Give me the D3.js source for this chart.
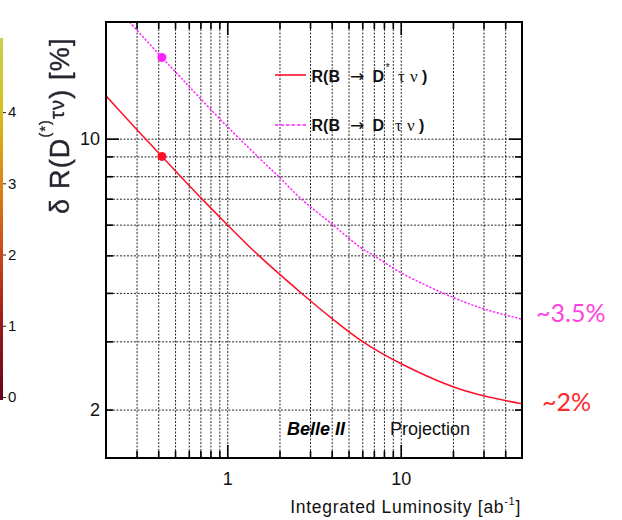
<!DOCTYPE html>
<html><head><meta charset="utf-8">
<script src="https://cdn.jsdelivr.net/npm/d3@7/dist/d3.min.js"></script>
<style>body{margin:0;background:#fff}svg{display:block}</style>
</head><body><svg id="c" width="622" height="520"></svg>
<script>
// ---------------- data ----------------
const lumiRed = [0.2, 0.3, 0.42, 0.54, 0.74, 1.0, 1.5, 2.7, 4.0, 6.0, 10, 20, 30, 50];
const valRed  = [12.9, 10.57, 9.0, 7.98, 6.88, 6.0, 5.02, 3.98, 3.44, 3.0, 2.63, 2.29, 2.17, 2.07];
const lumiMag = [0.273, 0.42, 0.53, 0.61, 1.0, 1.73, 2.0, 2.63, 4.05, 5.86, 7.06, 10.2, 20.4, 30.6, 50];
const valMag  = [20.0, 16.2, 14.5, 13.55, 10.75, 8.45, 7.95, 7.03, 6.0, 5.24, 4.98, 4.49, 3.88, 3.63, 3.42];
const markerLumi = [0.42];
const markerRed  = [9.0];
const markerMag  = [16.2];
const xTickLabels = [1, 10];
const xMinor = [0.3,0.4,0.5,0.6,0.7,0.8,0.9,2,3,4,5,6,7,8,9,20,30,40];
const xGrid  = [0.3,0.4,0.5,0.6,0.7,0.8,0.9,1,2,3,4,5,6,7,8,9,10,20,30,40];
const yTickLabels = [2, 10];
const yMinor = [2,3,4,5,6,7,8,9];
const yMajor = [10];
const yGrid  = [2,3,4,5,6,7,8,9,10];
const colorbarTicks = [0,1,2,3,4];
const annoMag = "~3.5%";
const annoRed = "~2%";

// ---------------- layout ----------------
const svg = d3.select("#c");
const L = 106, R = 522, T = 22, B = 458;
const x = d3.scaleLog().domain([0.2, 50]).range([L, R]);
const y = d3.scaleLog().domain([1.5, 20]).range([B, T]);
const sans = "Liberation Sans, Arial, sans-serif", serif = "Liberation Serif, Times New Roman, serif";

// colorbar (left cut-off panel)
const defs = svg.append("defs");
const grad = defs.append("linearGradient").attr("id","cb").attr("x1",0).attr("y1",0).attr("x2",0).attr("y2",1);
[[0,"#c8d050"],[0.2,"#d6c01e"],[0.4,"#dc8612"],[0.6,"#c8461a"],[0.8,"#961818"],[1,"#640418"]]
  .forEach(([o,c]) => grad.append("stop").attr("offset",o).attr("stop-color",c));
const cb = d3.scaleLinear().domain([0, 5.04]).range([397, 38]);
svg.append("rect").attr("x",0).attr("y",cb(5.04)).attr("width",3).attr("height",cb(0)-cb(5.04)+3).attr("fill","url(#cb)");
const cbAxis = svg.append("g").attr("transform","translate(3,0)")
  .call(d3.axisRight(cb).tickValues(colorbarTicks).tickSize(3).tickPadding(2).tickFormat(d3.format("d")));
cbAxis.select(".domain").remove();
cbAxis.attr("font-size",15).attr("font-family",sans);
cbAxis.selectAll("text").style("font-size","15px").attr("fill","#111");
cbAxis.selectAll("line").attr("stroke","#222");

// y axis title
const blur = defs.append("filter").attr("id","bl");
blur.append("feGaussianBlur").attr("stdDeviation",0.5);
const yt = svg.append("text").attr("transform","translate(69,214) rotate(-90)")
  .attr("font-family",sans).attr("font-size",27).attr("letter-spacing",1.2).attr("fill","#262630")
  .attr("stroke","#262630").attr("stroke-width",0.4).attr("filter","url(#bl)");
yt.append("tspan").text("δ R(D");
yt.append("tspan").attr("font-size",14).attr("dy",-19).text("(*)");
yt.append("tspan").attr("font-size",20).attr("dy",14).text("τν");
yt.append("tspan").attr("dy",5).text(") [%]");

// clip
defs.append("clipPath").attr("id","pc").append("rect").attr("x",L).attr("y",T).attr("width",R-L).attr("height",B-T);

// grid
const gx = svg.append("g").attr("transform",`translate(0,${B})`)
  .call(d3.axisBottom(x).tickValues(xGrid).tickSize(-(B-T)).tickFormat(""));
const gy = svg.append("g").attr("transform",`translate(${L},0)`)
  .call(d3.axisLeft(y).tickValues(yGrid).tickSize(-(R-L)).tickFormat(""));
[gx,gy].forEach(g => { g.select(".domain").remove();
  g.selectAll("line").attr("stroke","#111").attr("stroke-width",0.9).attr("stroke-dasharray","2,1.5"); });

// ticks (inward) on four sides
function ticks(gen, vals, size, tr){
  const g = svg.append("g").attr("transform",tr).call(gen.tickValues(vals).tickSize(-size).tickFormat(""));
  g.select(".domain").remove();
  g.selectAll("line").attr("stroke","#000").attr("stroke-width",1.6);
}
ticks(d3.axisBottom(x), xMinor, 7, `translate(0,${B})`);
ticks(d3.axisBottom(x), xTickLabels, 13, `translate(0,${B})`);
ticks(d3.axisTop(x), xMinor, 7, `translate(0,${T})`);
ticks(d3.axisTop(x), xTickLabels, 13, `translate(0,${T})`);
ticks(d3.axisLeft(y), yMinor, 7, `translate(${L},0)`);
ticks(d3.axisLeft(y), yMajor, 13, `translate(${L},0)`);
ticks(d3.axisRight(y), yMinor, 7, `translate(${R},0)`);
ticks(d3.axisRight(y), yMajor, 13, `translate(${R},0)`);

// tick labels
const xl = svg.append("g").attr("transform",`translate(0,${B})`)
  .call(d3.axisBottom(x).tickValues(xTickLabels).tickSize(0).tickPadding(14).tickFormat(d3.format("d")));
const yl = svg.append("g").attr("transform",`translate(${L},0)`)
  .call(d3.axisLeft(y).tickValues(yTickLabels).tickSize(0).tickPadding(6).tickFormat(d3.format("d")));
[xl,yl].forEach(g => { g.select(".domain").remove();
  g.selectAll("text").attr("font-family",sans).attr("font-size",18).attr("fill","#111"); });

// x axis title
const xt = svg.append("text").attr("x",521).attr("y",513).attr("text-anchor","end")
  .attr("font-family",sans).attr("font-size",17.5).attr("letter-spacing",0.7).attr("fill","#111");
xt.append("tspan").text("Integrated Luminosity [ab");
xt.append("tspan").attr("font-size",11).attr("dy",-8).text("-1");
xt.append("tspan").attr("dy",8).text("]");

// curves
const line = d3.line().x(d => x(d[0])).y(d => y(d[1])).curve(d3.curveCatmullRom.alpha(0.5));
const plot = svg.append("g").attr("clip-path","url(#pc)");
plot.append("path").datum(d3.zip(lumiMag, valMag)).attr("d",line)
  .attr("fill","none").attr("stroke","#ff22ff").attr("stroke-width",1.5).attr("stroke-dasharray","2.2,1.6");
plot.append("path").datum(d3.zip(lumiRed, valRed)).attr("d",line)
  .attr("fill","none").attr("stroke","#ff1028").attr("stroke-width",1.5);
plot.selectAll("circle.m").data(d3.zip(markerLumi, markerMag)).join("circle")
  .attr("cx",d=>x(d[0])).attr("cy",d=>y(d[1])).attr("r",4.5).attr("fill","#ff22ff");
plot.selectAll("circle.r").data(d3.zip(markerLumi, markerRed)).join("circle")
  .attr("cx",d=>x(d[0])).attr("cy",d=>y(d[1])).attr("r",4.5).attr("fill","#ff1028");

// frame
svg.append("rect").attr("x",L).attr("y",T).attr("width",R-L).attr("height",B-T)
  .attr("fill","none").attr("stroke","#000").attr("stroke-width",2);

// legend
function legendEntry(yl, yb, color, dash, star, tauX){
  svg.append("line").attr("x1",275).attr("x2",306).attr("y1",yl).attr("y2",yl)
    .attr("stroke",color).attr("stroke-width",1.6).attr("stroke-dasharray",dash);
  const t = (xx, s, f, sz, w, yy) => svg.append("text").attr("x",xx).attr("y",yy===undefined?yb:yy)
    .attr("font-family",f).attr("font-size",sz).attr("font-weight",w).attr("fill","#111").text(s);
  t(311.5,"R(B",sans,16,"bold");
  t(350,"→","DejaVu Sans, sans-serif",17,"normal");
  t(372.5,"D",sans,16,"bold");
  if(star) t(385.5,"*",sans,11,"normal", yb-11);
  t(tauX,"τ",serif,17,"normal");
  t(tauX+12,"ν",serif,17,"normal");
  t(tauX+24,")",sans,16,"bold");
}
legendEntry(75, 82, "#ff1028", null, true, 398);
legendEntry(125, 131, "#ff22ff", "3.5,2", false, 395);

// labels in plot
svg.append("text").attr("x",287).attr("y",435).attr("font-family",sans).attr("font-size",18)
  .attr("font-weight","bold").attr("font-style","italic").attr("fill","#000").text("Belle II");
svg.append("text").attr("x",390).attr("y",435).attr("font-family",sans).attr("font-size",18)
  .attr("fill","#111").text("Projection");

// annotations
svg.append("text").attr("x",536).attr("y",322).attr("font-family","Lato, sans-serif").attr("font-size",25)
  .attr("fill","#ff44dd").text(annoMag);
svg.append("text").attr("x",542).attr("y",411).attr("font-family","Lato, sans-serif").attr("font-size",25)
  .attr("fill","#ff2a2a").text(annoRed);
</script></body></html>
